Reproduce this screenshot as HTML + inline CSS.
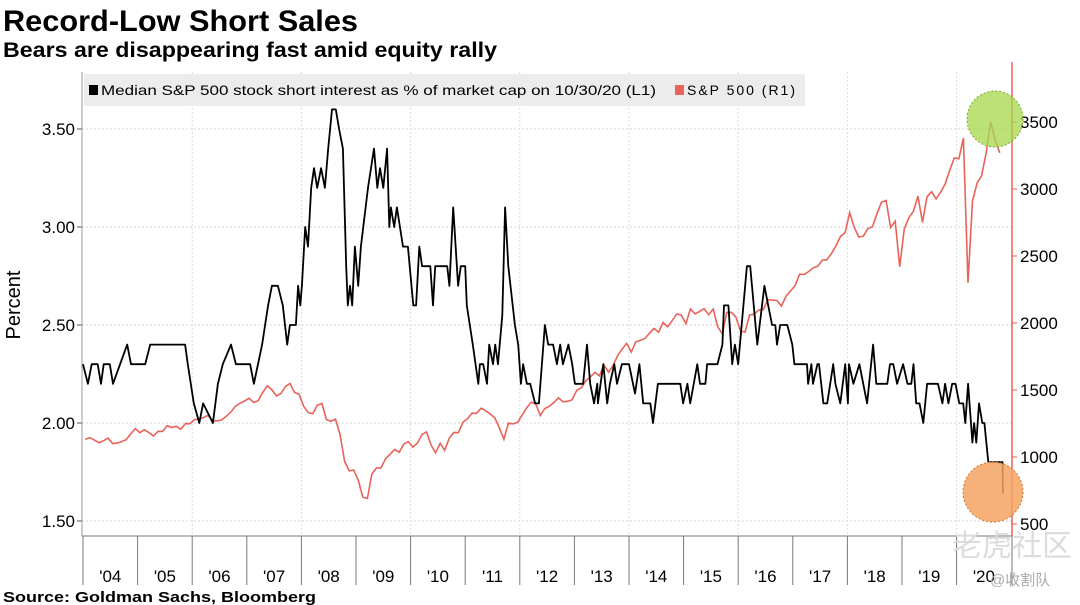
<!DOCTYPE html>
<html><head><meta charset="utf-8"><style>
body{margin:0;background:#fff;width:1080px;height:605px;overflow:hidden;font-family:"Liberation Sans",sans-serif}
svg{display:block}
</style></head><body>
<svg id="chart" width="1080" height="605" viewBox="0 0 1080 605" xmlns="http://www.w3.org/2000/svg">
<text x="3" y="31" font-family="Liberation Sans,sans-serif" font-weight="bold" font-size="30" textLength="355" lengthAdjust="spacingAndGlyphs">Record-Low Short Sales</text>
<text x="3" y="57" font-family="Liberation Sans,sans-serif" font-weight="bold" font-size="21" textLength="494" lengthAdjust="spacingAndGlyphs">Bears are disappearing fast amid equity rally</text>
<text x="3" y="602" font-family="Liberation Sans,sans-serif" font-weight="bold" font-size="15" textLength="313" lengthAdjust="spacingAndGlyphs">Source: Goldman Sachs, Bloomberg</text>
<text transform="translate(20,305) rotate(-90)" text-anchor="middle" font-size="20">Percent</text>
<g id="grid"></g>
<g id="axes"></g>
<g id="series"></g>
<g>
<rect x="84" y="74" width="721" height="32" fill="#ececec"/>
<rect x="89" y="85" width="9" height="10" fill="#000"/>
<text x="101" y="95" font-size="14" textLength="555" lengthAdjust="spacingAndGlyphs">Median S&amp;P 500 stock short interest as % of market cap on 10/30/20 (L1)</text>
<rect x="675" y="85" width="9" height="10" fill="#e8635a"/>
<text x="687" y="95" font-size="14" textLength="108">S&amp;P 500  (R1)</text>
</g>
<circle cx="995" cy="119" r="28" fill="#a6d84a" fill-opacity="0.75" stroke="#7aa82a" stroke-dasharray="2,2"/>
<circle cx="993" cy="492" r="30" fill="#f5a262" fill-opacity="0.85" stroke="#d07a30" stroke-dasharray="2,2"/>
<text x="952" y="556" font-family="Liberation Sans,Noto Sans CJK SC,sans-serif" font-size="30" fill="#dcdcdc">老虎社区</text>
<text x="990" y="585" font-family="Liberation Sans,Noto Sans CJK SC,sans-serif" font-size="15" fill="#aaa">@收割队</text>
</svg>
<script>
const yearLabels=["'04","'05","'06","'07","'08","'09","'10","'11","'12","'13","'14","'15","'16","'17","'18","'19","'20"];
const leftTicks=[1.5,2.0,2.5,3.0,3.5];
const rightTicks=[500,1000,1500,2000,2500,3000,3500];
const shortDates=[2004.00,2004.09,2004.16,2004.27,2004.33,2004.38,2004.49,2004.55,2004.81,2004.88,2005.14,2005.23,2005.87,2005.92,2006.03,2006.13,2006.20,2006.38,2006.47,2006.56,2006.71,2006.80,2007.06,2007.13,2007.28,2007.39,2007.46,2007.57,2007.66,2007.74,2007.79,2007.90,2007.94,2007.98,2008.01,2008.07,2008.12,2008.18,2008.23,2008.29,2008.36,2008.43,2008.49,2008.56,2008.63,2008.69,2008.76,2008.82,2008.85,2008.89,2008.93,2008.98,2009.04,2009.09,2009.22,2009.33,2009.39,2009.44,2009.50,2009.57,2009.61,2009.64,2009.70,2009.75,2009.86,2009.95,2010.05,2010.10,2010.16,2010.21,2010.36,2010.41,2010.45,2010.67,2010.71,2010.78,2010.87,2010.92,2011.00,2011.03,2011.14,2011.24,2011.27,2011.33,2011.40,2011.44,2011.51,2011.55,2011.60,2011.68,2011.73,2011.79,2011.91,2011.97,2012.02,2012.06,2012.13,2012.19,2012.28,2012.35,2012.46,2012.52,2012.61,2012.68,2012.74,2012.79,2012.89,2012.96,2013.01,2013.16,2013.23,2013.29,2013.36,2013.42,2013.43,2013.53,2013.60,2013.65,2013.73,2013.78,2013.87,2014.00,2014.11,2014.19,2014.26,2014.39,2014.44,2014.53,2014.94,2014.99,2015.07,2015.12,2015.25,2015.30,2015.40,2015.43,2015.62,2015.71,2015.74,2015.82,2015.89,2015.94,2016.00,2016.16,2016.22,2016.35,2016.48,2016.55,2016.62,2016.68,2016.71,2016.77,2016.90,2016.99,2017.03,2017.26,2017.28,2017.34,2017.37,2017.45,2017.48,2017.56,2017.63,2017.74,2017.78,2017.87,2017.96,2018.01,2018.03,2018.11,2018.22,2018.36,2018.47,2018.53,2018.73,2018.78,2018.84,2018.91,2019.02,2019.10,2019.17,2019.21,2019.26,2019.32,2019.39,2019.46,2019.66,2019.74,2019.79,2019.85,2019.92,2019.98,2020.05,2020.12,2020.16,2020.21,2020.29,2020.32,2020.36,2020.41,2020.47,2020.51,2020.58,2020.84,2020.85];
const shortValues=[2.3,2.2,2.3,2.3,2.2,2.3,2.3,2.2,2.4,2.3,2.3,2.4,2.4,2.3,2.1,2.0,2.1,2.0,2.2,2.3,2.4,2.3,2.3,2.2,2.4,2.6,2.7,2.7,2.6,2.4,2.5,2.5,2.7,2.6,2.7,3.0,2.9,3.2,3.3,3.2,3.3,3.2,3.4,3.6,3.6,3.5,3.4,2.8,2.6,2.7,2.6,2.9,2.7,2.9,3.2,3.4,3.2,3.3,3.2,3.4,3.0,3.1,3.0,3.1,2.9,2.9,2.6,2.6,2.9,2.8,2.8,2.6,2.8,2.8,2.7,3.1,2.7,2.8,2.8,2.6,2.4,2.2,2.3,2.3,2.2,2.4,2.3,2.4,2.3,2.55,3.1,2.8,2.5,2.4,2.2,2.3,2.2,2.2,2.1,2.1,2.5,2.4,2.4,2.3,2.4,2.3,2.4,2.3,2.2,2.2,2.4,2.2,2.1,2.2,2.1,2.3,2.1,2.2,2.3,2.2,2.3,2.3,2.15,2.3,2.1,2.1,2.0,2.2,2.2,2.1,2.2,2.1,2.3,2.2,2.2,2.3,2.3,2.4,2.6,2.6,2.3,2.4,2.3,2.8,2.8,2.4,2.7,2.6,2.5,2.5,2.4,2.5,2.5,2.4,2.3,2.3,2.2,2.3,2.2,2.3,2.3,2.1,2.1,2.3,2.2,2.1,2.3,2.1,2.3,2.2,2.3,2.1,2.4,2.2,2.2,2.3,2.3,2.2,2.3,2.2,2.2,2.3,2.1,2.1,2.0,2.2,2.2,2.1,2.2,2.1,2.2,2.2,2.1,2.1,2.0,2.2,1.9,2.0,1.9,2.1,2.0,2.0,1.8,1.8,1.64];
const spStartYear=2004;
const spValues=[1131,1145,1126,1107,1121,1141,1101,1104,1115,1130,1174,1212,
1181,1204,1181,1157,1192,1191,1234,1220,1229,1207,1249,1248,
1280,1281,1295,1311,1270,1270,1277,1304,1336,1378,1401,1418,
1438,1407,1421,1482,1531,1503,1455,1474,1527,1549,1481,1468,
1378,1331,1323,1386,1400,1280,1267,1283,1165,969,896,903,
826,700,690,873,919,919,987,1021,1057,1036,1096,1115,
1074,1104,1169,1187,1089,1031,1102,1049,1141,1183,1181,1258,
1286,1327,1326,1364,1345,1321,1292,1219,1131,1253,1247,1258,
1312,1366,1408,1398,1310,1362,1379,1407,1441,1412,1416,1426,
1498,1515,1569,1598,1631,1606,1686,1633,1682,1757,1806,1848,
1783,1859,1872,1884,1924,1960,1931,2003,1972,2018,2068,2059,
1995,2105,2068,2086,2107,2063,2104,1972,1920,2079,2080,2044,
1940,1932,2060,2065,2097,2099,2174,2171,2168,2126,2199,2239,
2279,2364,2363,2384,2412,2423,2470,2472,2519,2575,2648,2674,
2824,2714,2641,2648,2705,2718,2816,2902,2914,2712,2760,2420,
2704,2784,2834,2946,2752,2942,2980,2926,2977,3038,3141,3231,
3226,3380,2300,2912,3044,3100,3271,3500,3363,3270];

const NS='http://www.w3.org/2000/svg';
const X0=83, PX_PER_YEAR=54.6, PL=82, PR=1012, PT=72, PB=536;
const xScale=d=>X0+(d-2004)*PX_PER_YEAR;
const yL=v=>129+(3.5-v)*196;
const yR=v=>122+(3500-v)*0.134;
function mk(tag,attrs,parent){const e=document.createElementNS(NS,tag);for(const k in attrs)e.setAttribute(k,attrs[k]);parent.appendChild(e);return e;}
const grid=document.getElementById('grid'),axes=document.getElementById('axes'),series=document.getElementById('series');

leftTicks.forEach(t=>{
  const y=yL(t);
  const g=mk('line',{x1:PL,x2:PR,y1:y,y2:y,stroke:'#d4d4d4','stroke-dasharray':'2,2'},grid);
  
  
  const tk=mk('line',{x1:PL-5,x2:PL,y1:y,y2:y,stroke:'#555'},axes);
  
  
  const tx=mk('text',{x:PL-7,y:y+6,'text-anchor':'end','font-size':'17'},axes);
  tx.textContent=t.toFixed(2);
  
  
});
rightTicks.forEach(t=>{
  const y=yR(t);
  const tk=mk('line',{x1:PR,x2:PR+5,y1:y,y2:y,stroke:'#e8635a'},axes);
  
  
  const tx=mk('text',{x:PR+8,y:y+6,'font-size':'17'},axes);
  tx.textContent=t;
  
  
});
yearLabels.forEach((lab,i)=>{
  const yr=2004+i, x=xScale(yr);
  if(i%2==0&&i>0){const g=mk('line',{x1:x,x2:x,y1:PT,y2:PB,stroke:'#dcdcdc','stroke-dasharray':'2,2'},grid);
    
    }
  const s=mk('line',{x1:x,x2:x,y1:PB,y2:585,stroke:'#777'},axes);
  
  
  const tx=mk('text',{x:xScale(yr+0.5),y:582,'text-anchor':'middle','font-size':'17'},axes);
  tx.textContent=lab;
  
  
});
const endSep=mk('line',{x1:PR,x2:PR,y1:PB,y2:585,stroke:'#777'},axes);


const la=mk('line',{x1:PL,x2:PL,y1:PT,y2:PB,stroke:'#999'},axes);


const ra=mk('line',{x1:PR,x2:PR,y1:PT-10,y2:PB,stroke:'#e8635a','stroke-width':'1.5'},axes);


const ba=mk('line',{x1:PL,x2:PR,y1:PB,y2:PB,stroke:'#777'},axes);



const spPts=spValues.map((v,i)=>xScale(spStartYear+(i+0.5)/12).toFixed(1)+','+yR(v).toFixed(1)).join(' ');
const sp=mk('polyline',{points:spPts,fill:'none',stroke:'#e8635a','stroke-width':'1.6'},series);


const siPts=shortDates.map((d,i)=>xScale(d).toFixed(1)+','+yL(shortValues[i]).toFixed(1)).join(' ');
const si=mk('polyline',{points:siPts,fill:'none',stroke:'#000','stroke-width':'1.8','stroke-linejoin':'round'},series);


</script>
</body></html>
